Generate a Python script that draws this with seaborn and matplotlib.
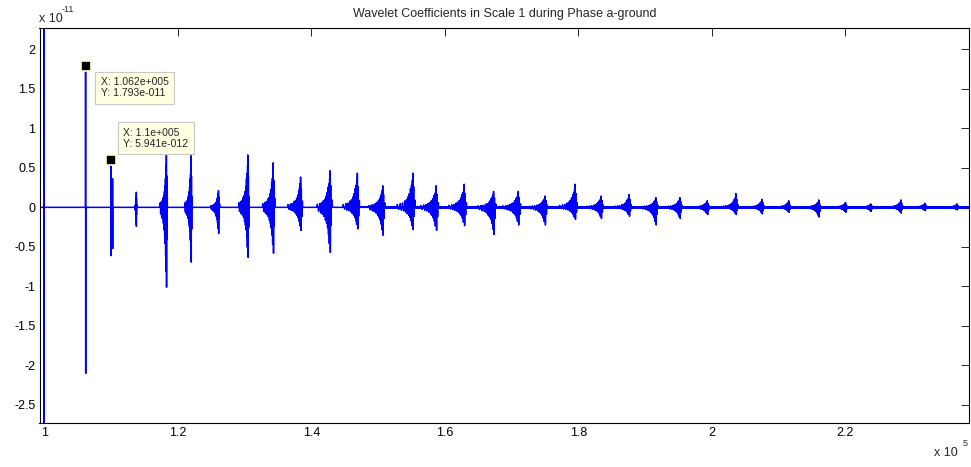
import matplotlib
matplotlib.use("Agg")
import matplotlib.pyplot as plt
import numpy as np
import pandas as pd
import seaborn as sns

# x in units of 1e5 samples, y in units of 1e-11
# first isolated spikes (start of fault)
lead_x = [0.993, 1.000, 1.0001, 1.062, 1.0622, 1.100, 1.1002, 1.1024, 1.1026]
lead_y = [0.0, 3.5, -3.5, 1.793, -2.10, 0.5941, -0.61, 0.36, -0.52]

# travelling-wave bursts: centre, top, bottom, body width factor, noise floor
burst_x = [1.138, 1.183, 1.220, 1.261, 1.305, 1.343, 1.384, 1.428, 1.469, 1.507,
           1.552, 1.587, 1.629, 1.673, 1.710, 1.750, 1.795, 1.834, 1.876, 1.916,
           1.952, 1.993, 2.036, 2.075, 2.115, 2.160, 2.200, 2.238, 2.283, 2.319, 2.367]
burst_hi = [0.19, 0.66, 0.65, 0.21, 0.66, 0.56, 0.38, 0.46, 0.43, 0.27,
            0.43, 0.27, 0.29, 0.20, 0.20, 0.14, 0.29, 0.14, 0.16, 0.12,
            0.12, 0.08, 0.17, 0.10, 0.08, 0.09, 0.06, 0.04, 0.09, 0.05, 0.04]
burst_lo = [-0.24, -1.01, -0.69, -0.33, -0.63, -0.58, -0.29, -0.57, -0.27, -0.35,
            -0.28, -0.29, -0.23, -0.34, -0.22, -0.22, -0.15, -0.14, -0.11, -0.22,
            -0.14, -0.09, -0.09, -0.08, -0.06, -0.12, -0.06, -0.05, -0.07, -0.04, -0.03]
burst_w = [0.1, 0.45, 0.45, 0.55, 0.65, 0.75, 0.9, 0.9, 1.0, 1.0,
           1.1, 1.1, 1.1, 1.1, 1.1, 1.1, 1.1, 1.0, 1.0, 1.0,
           1.0, 1.0, 0.9, 0.9, 0.9, 0.9, 0.9, 0.9, 0.9, 0.9, 0.9]
burst_floor = [0, 0, 0, 0, 0, 0, 0.005, 0.008, 0.01, 0.012,
               0.015, 0.015, 0.018, 0.018, 0.02, 0.02, 0.02, 0.02, 0.02, 0.02,
               0.02, 0.02, 0.02, 0.02, 0.02, 0.02, 0.02, 0.02, 0.02, 0.02, 0.02]

# typical burst shape read off a mid burst (offset, relative amplitude)
shape_dx = [-0.021, -0.019, -0.017, -0.0155, -0.014, -0.0125, -0.011, -0.0098,
            -0.0086, -0.0075, -0.0065, -0.0056, -0.0047, -0.0039, -0.0031, -0.0024,
            -0.0017, -0.0011, -0.0005, 0.0, 0.0006, 0.0012, 0.002, 0.003]
shape_amp = [0.08, -0.08, 0.10, -0.12, 0.12, -0.15, 0.18, -0.20,
             0.22, -0.28, 0.30, -0.35, 0.40, -0.45, 0.55, -0.60,
             0.65, -0.80, 0.80, 1.0, -1.0, 0.60, -0.40, 0.20]

xticks = [1.0, 1.2, 1.4, 1.6, 1.8, 2.0, 2.2]
xtick_labels = ["1", "1.2", "1.4", "1.6", "1.8", "2", "2.2"]
yticks = [-2.5, -2, -1.5, -1, -0.5, 0, 0.5, 1, 1.5, 2]
ytick_labels = ["-2.5", "-2", "-1.5", "-1", "-0.5", "0", "0.5", "1", "1.5", "2"]

tip_x = [1.062, 1.100]
tip_y = [1.793, 0.5941]
tip_text = ["X: 1.062e+005\nY: 1.793e-011", "X: 1.1e+005\nY: 5.941e-012"]
tip_offset = [(49, -22), (45, 22)]   # pixels

# build signal polyline
xs, ys = [], []
for x, y in zip(lead_x, lead_y):
    xs += [x, x, x]
    ys += [0, y, 0]
for bx, hi, lo, w in zip(burst_x, burst_hi, burst_lo, burst_w):
    for dx, a in zip(shape_dx, shape_amp):
        amp = a * hi if a > 0 else -a * lo
        px = bx + dx * w
        xs += [px, px, px]
        ys += [0, amp, 0]
xs.append(2.385)
ys.append(0)
sig = pd.DataFrame({"x": xs, "y": ys})

sns.set_style("white")
plt.rcParams["font.family"] = ["Liberation Sans", "DejaVu Sans"]

fig = plt.figure(figsize=(9.71, 4.67), dpi=100)
ax = fig.add_axes([39.5 / 971, 1 - 423 / 467, (969 - 39.5) / 971, (423 - 28) / 467])

blue = (0, 0, 1)
# noise floor between bursts
for i, bx in enumerate(burst_x):
    f = burst_floor[i]
    if f <= 0:
        continue
    x0 = burst_x[i - 1]
    x1 = bx if i < len(burst_x) - 1 else 2.385
    ax.fill_between([x0, x1], -f, f, color=blue, lw=0)

sns.lineplot(data=sig, x="x", y="y", sort=False, estimator=None,
             color=blue, lw=1.1, ax=ax)

ax.set_xlim(0.993, 2.385)
ax.set_ylim(-2.73, 2.27)
ax.set_xticks(xticks)
ax.set_xticklabels(xtick_labels)
ax.set_yticks(yticks)
ax.set_yticklabels(ytick_labels)
ax.set_xlabel("")
ax.set_ylabel("")
ax.tick_params(direction="in", top=True, right=True, length=5.5, width=0.6,
               labelsize=9, pad=3, colors="black")
for s in ax.spines.values():
    s.set_color("black")
    s.set_linewidth(0.8)
ax.set_title("Wavelet Coefficients in Scale 1 during Phase a-ground",
             fontsize=9, pad=8)

# data tips
for x, y, t, (ox, oy) in zip(tip_x, tip_y, tip_text, tip_offset):
    ax.plot(x, y, "s", color="black", ms=7, mec="#ffffd0", mew=1.2, zorder=5)
    ax.annotate(t, (x, y), xytext=(ox, oy), textcoords="offset pixels",
                ha="center", va="center", multialignment="left", fontsize=7.5,
                bbox=dict(boxstyle="square,pad=0.5", fc="#ffffe1", ec="#c8c8c8", lw=0.8),
                zorder=6)

# exponent labels
fig.text(39 / 971, 1 - 21.5 / 467, "x 10", fontsize=9, ha="left", va="baseline")
fig.text(62 / 971, 1 - 12 / 467, "-11", fontsize=6.5, ha="left", va="baseline")
fig.text(934 / 971, 1 - 456 / 467, "x 10", fontsize=9, ha="left", va="baseline")
fig.text(963 / 971, 1 - 446 / 467, "5", fontsize=6.5, ha="left", va="baseline")

fig.savefig("out.png", dpi=100)
